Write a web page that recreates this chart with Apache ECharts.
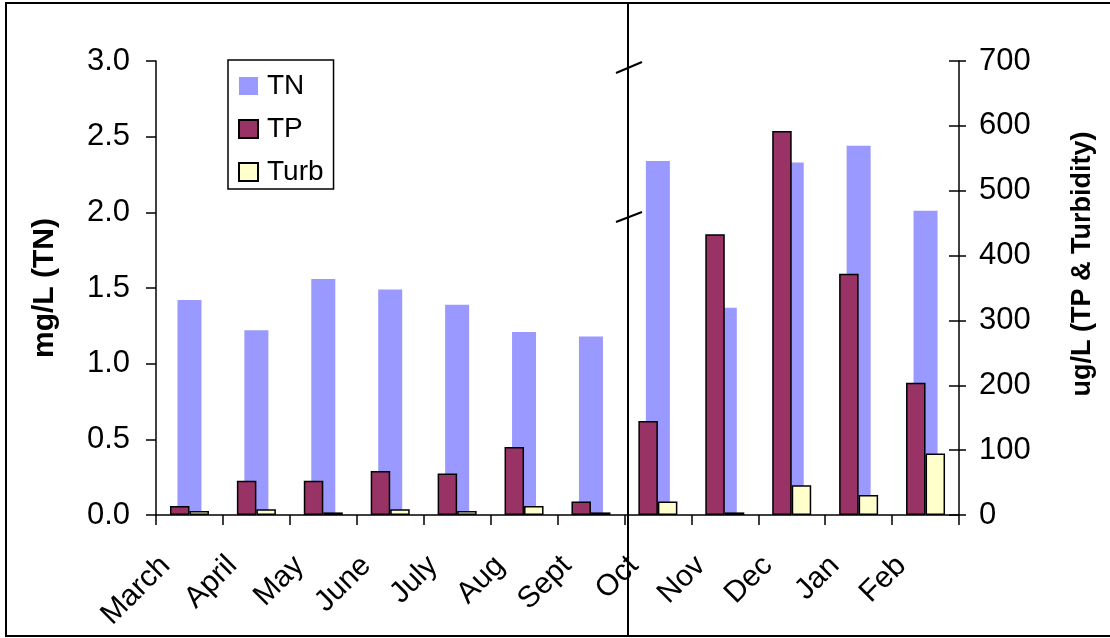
<!DOCTYPE html>
<html>
<head>
<meta charset="utf-8">
<script src="https://cdn.jsdelivr.net/npm/echarts@6/dist/echarts.min.js"></script>
<style>
html,body{margin:0;padding:0;background:#fff;}
#c{width:1110px;height:638px;}
</style>
</head>
<body>
<div id="c"></div>
<script>
const months = ['March','April','May','June','July','Aug','Sept','Oct','Nov','Dec','Jan','Feb'];
const tnValues = [1.42, 1.22, 1.56, 1.49, 1.39, 1.21, 1.18, 2.34, 1.37, 2.33, 2.44, 2.01];
const tpValues = [14, 53, 53, 68, 64, 105, 21, 145, 433, 592, 372, 204];
const turbValues = [6, 9, 4, 9, 6, 14, 4, 21, 4, 46, 31, 95];
const leftTicks = {min: 0, max: 3, interval: 0.5};
const rightTicks = {min: 0, max: 700, interval: 100};

const FONT = '"Liberation Sans", Arial, sans-serif';
const chart = echarts.init(document.getElementById('c'), null, {renderer: 'canvas'});

const option = {
  backgroundColor: '#fff',
  animation: false,
  textStyle: {fontFamily: FONT, color: '#000'},
  grid: {left: 156, right: 151, top: 61, bottom: 123, containLabel: false},
  legend: {
    orient: 'vertical',
    left: 228, top: 60,
    icon: 'rect',
    itemWidth: 19, itemHeight: 18, itemGap: 15,
    padding: [12, 10, 3, 10],
    borderColor: '#000', borderWidth: 1.5,
    backgroundColor: '#fff',
    textStyle: {fontFamily: FONT, fontSize: 28, color: '#000', padding: [0, 0, 0, 4]},
    data: ['TN', 'TP', 'Turb']
  },
  xAxis: [
    {
      type: 'category', data: months, gridIndex: 0,
      axisLine: {lineStyle: {color: '#000', width: 1.5}},
      axisTick: {show: true, length: 10, lineStyle: {color: '#000', width: 1.5}},
      axisLabel: {interval: 0, rotate: 45, fontSize: 30, color: '#000', fontFamily: FONT, margin: 22, padding: [0, 34, 0, 0]}
    },
    {
      type: 'category', data: months, gridIndex: 0, show: false
    }
  ],
  yAxis: [
    {
      type: 'value', position: 'left', min: leftTicks.min, max: leftTicks.max, interval: leftTicks.interval,
      name: 'mg/L (TN)', nameLocation: 'middle', nameGap: 96, nameRotate: 90,
      nameTextStyle: {fontSize: 30, fontWeight: 'bold', color: '#000', fontFamily: FONT},
      axisLine: {show: true, lineStyle: {color: '#000', width: 1.5}},
      axisTick: {show: true, length: 10, lineStyle: {color: '#000', width: 1.5}},
      axisLabel: {fontSize: 31, color: '#000', fontFamily: FONT, margin: 26, formatter: v => v.toFixed(1)},
      splitLine: {show: false}
    },
    {
      type: 'value', position: 'right', min: rightTicks.min, max: rightTicks.max, interval: rightTicks.interval,
      name: 'ug/L (TP & Turbidity)', nameLocation: 'middle', nameGap: 110, nameRotate: 90,
      nameTextStyle: {fontSize: 27, fontWeight: 'bold', color: '#000', fontFamily: FONT, padding: [0, 0, 0, 48]},
      axisLine: {show: true, lineStyle: {color: '#000', width: 1.5}},
      axisTick: {show: true, length: 7, lineStyle: {color: '#000', width: 1.5}},
      axisLabel: {fontSize: 31, color: '#000', fontFamily: FONT, margin: 20},
      splitLine: {show: false}
    },
    {
      type: 'value', position: 'right', min: rightTicks.min, max: rightTicks.max, interval: rightTicks.interval,
      axisLine: {show: false},
      axisTick: {show: true, inside: true, length: 10, lineStyle: {color: '#000', width: 1.5}},
      axisLabel: {show: false},
      splitLine: {show: false}
    }
  ],
  series: [
    {
      name: 'TN', type: 'bar', xAxisIndex: 0, yAxisIndex: 0,
      data: tnValues, barWidth: 24,
      itemStyle: {color: '#9999FF'}
    },
    {
      name: 'TP', type: 'bar', xAxisIndex: 1, yAxisIndex: 1,
      data: tpValues, barWidth: 19.5, barGap: '0%',
      itemStyle: {color: '#993366', borderColor: '#000', borderWidth: 1.5}
    },
    {
      name: 'Turb', type: 'bar', xAxisIndex: 1, yAxisIndex: 1,
      data: turbValues, barWidth: 19.5, barGap: '0%',
      itemStyle: {color: '#FFFFCC', borderColor: '#000', borderWidth: 1.5}
    }
  ],
  graphic: [
    {type: 'rect', shape: {x: 6, y: 3, width: 1120, height: 633}, style: {fill: 'none', stroke: '#000', lineWidth: 2}, z: 100, silent: true},
    {type: 'line', shape: {x1: 628, y1: 3, x2: 628, y2: 636}, style: {stroke: '#000', lineWidth: 2}, z: 100, silent: true},
    {type: 'line', shape: {x1: 616, y1: 73, x2: 642, y2: 62}, style: {stroke: '#000', lineWidth: 2}, z: 100, silent: true},
    {type: 'line', shape: {x1: 616, y1: 222, x2: 642, y2: 212}, style: {stroke: '#000', lineWidth: 2}, z: 100, silent: true}
  ]
};
chart.setOption(option);
</script>
</body>
</html>
